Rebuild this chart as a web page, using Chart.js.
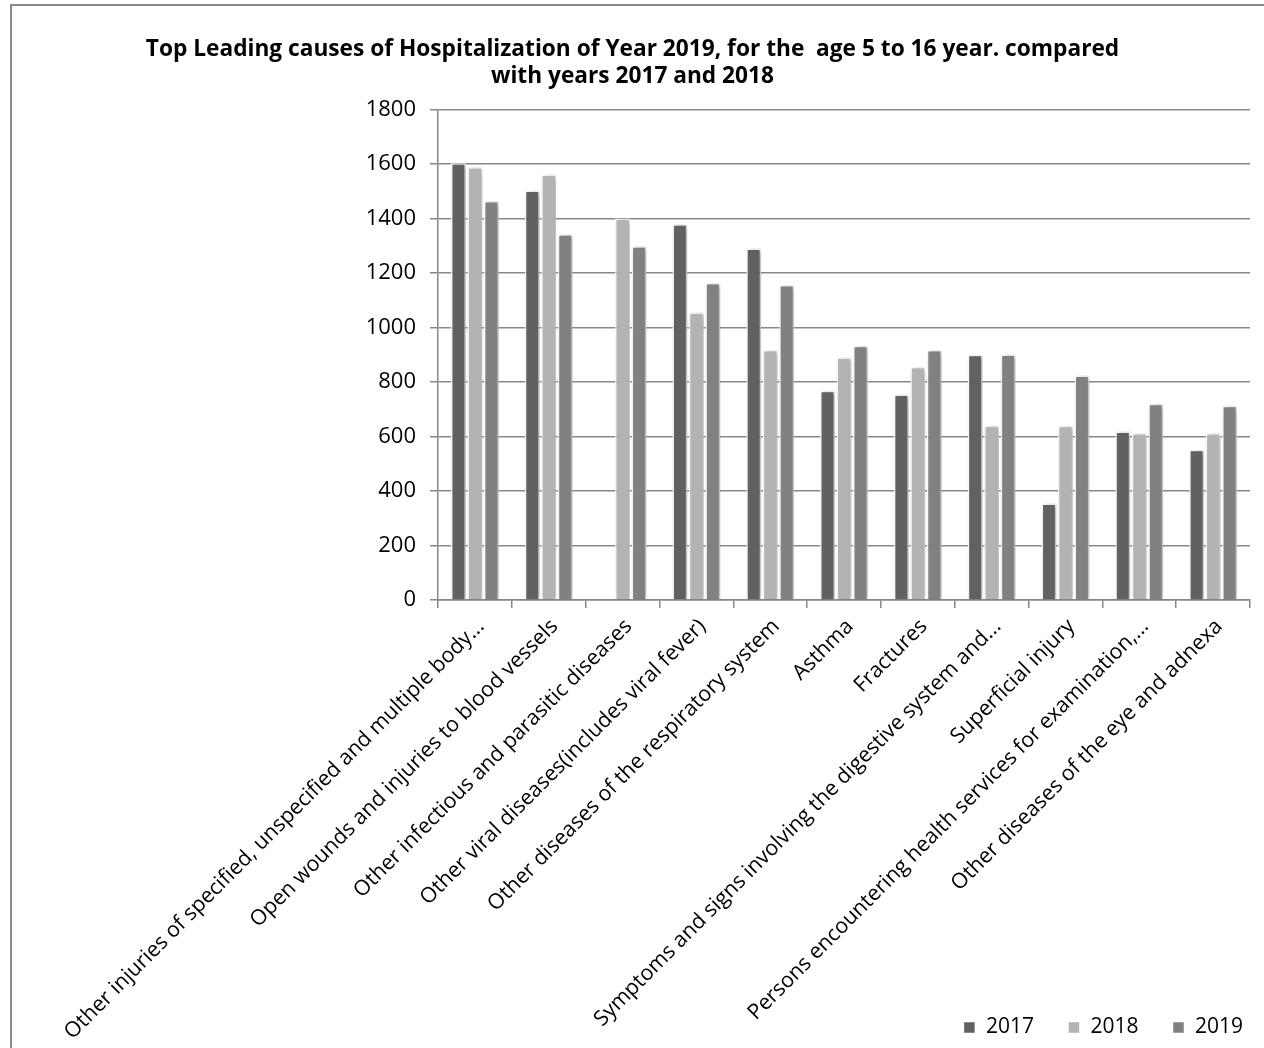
<!DOCTYPE html>
<html>
<head>
<meta charset="utf-8">
<script src="https://cdn.jsdelivr.net/npm/chart.js@4"></script>
<style>
  html, body { margin: 0; padding: 0; background: #ffffff; }
  #wrap { width: 1264px; height: 1048px; position: relative; }
</style>
</head>
<body>
<div id="wrap"><canvas id="c" width="1264" height="1048"></canvas></div>
<script>
const categories = [
  "Other injuries of specified, unspecified and multiple body...",
  "Open wounds and injuries to blood vessels",
  "Other infectious and parasitic diseases",
  "Other viral diseases(includes viral fever)",
  "Other diseases of the respiratory system",
  "Asthma",
  "Fractures",
  "Symptoms and signs involving the digestive system and...",
  "Superficial injury",
  "Persons encountering health services for examination,...",
  "Other diseases of the eye and adnexa"
];
const values2017 = [1603, 1503, null, 1379, 1290, 768, 754, 900, 354, 618, 551];
const values2018 = [1588, 1561, 1400, 1055, 917, 890, 855, 640, 639, 612, 612];
const values2019 = [1464, 1342, 1298, 1163, 1156, 933, 917, 901, 824, 720, 713];
const seriesNames = ["2017", "2018", "2019"];
const titleLines = [
  "Top Leading causes of Hospitalization of Year 2019, for the  age 5 to 16 year. compared",
  "with years 2017 and 2018"
];
const yMin = 0, yMax = 1800, yStep = 200;

const FONT = "'Open Sans', 'Noto Sans', sans-serif";
const GRID = '#878787';

const framePlugin = {
  id: 'frame',
  beforeDraw(chart) {
    const ctx = chart.ctx;
    ctx.save();
    ctx.fillStyle = '#ffffff';
    ctx.fillRect(0, 0, chart.width, chart.height);
    ctx.strokeStyle = '#8a8a8a';
    ctx.lineWidth = 2;
    ctx.strokeRect(11, 5, chart.width + 50, chart.height + 50);
    ctx.restore();
  }
};
const shadowPlugin = {
  id: 'barShadow',
  beforeDatasetsDraw(chart) {
    const ctx = chart.ctx;
    ctx.save();
    ctx.shadowColor = 'rgba(0,0,0,0.35)';
    ctx.shadowBlur = 5;
    ctx.shadowOffsetX = 2;
    ctx.shadowOffsetY = 1;
  },
  afterDatasetsDraw(chart) {
    chart.ctx.restore();
  }
};
const shiftPlugin = {
  id: 'shiftBoxes',
  afterLayout(chart) {
    if (chart.titleBlock) {
      chart.titleBlock.left += 15;
      chart.titleBlock.right += 0;
    }
    if (chart.legend) {
      chart.legend.left += 27;
      chart.legend.right += 27;
    }
  }
};

new Chart(document.getElementById('c'), {
  type: 'bar',
  data: {
    labels: categories,
    datasets: [
      { label: seriesNames[0], data: values2017, backgroundColor: '#616161' },
      { label: seriesNames[1], data: values2018, backgroundColor: '#b3b3b3' },
      { label: seriesNames[2], data: values2019, backgroundColor: '#818181' }
    ]
  },
  options: {
    responsive: false,
    animation: false,
    devicePixelRatio: 1,
    layout: { padding: { left: 0, right: 14, top: 0, bottom: 0 } },
    datasets: {
      bar: {
        categoryPercentage: 0.67,
        barPercentage: 0.9,
        borderColor: '#ffffff',
        borderWidth: 1.5
      }
    },
    plugins: {
      title: {
        display: true,
        text: titleLines,
        color: '#000000',
        font: { family: FONT, size: 22.7, weight: 'bold', lineHeight: 1.2 },
        padding: { top: 36, bottom: 19 }
      },
      legend: {
        display: true,
        position: 'bottom',
        align: 'end',
        labels: {
          color: '#000000',
          font: { family: FONT, size: 21 },
          boxWidth: 12,
          boxHeight: 12,
          padding: 34
        }
      },
      tooltip: { enabled: false }
    },
    scales: {
      x: {
        grid: { display: true, drawOnChartArea: false, drawTicks: true, tickLength: 8, color: GRID, lineWidth: 1.5 },
        border: { display: true, color: GRID, width: 1.5 },
        ticks: {
          color: '#000000',
          font: { family: FONT, size: 21.3 },
          minRotation: 45,
          maxRotation: 45,
          autoSkip: false,
          padding: 6,
          labelOffset: 6
        },
        afterFit(scale) {
          scale.height = 383;
          scale.paddingLeft = 0;
          scale.paddingRight = 0;
          scale._computeLabelArea = function () {
            return { top: this.top, left: 0, bottom: this.chart.height, right: this.chart.width };
          };
        }
      },
      y: {
        min: yMin,
        max: yMax,
        grid: { color: GRID, lineWidth: 1.5, tickLength: 8, drawTicks: true },
        border: { display: true, color: GRID, width: 1.5 },
        ticks: {
          stepSize: yStep,
          color: '#000000',
          font: { family: FONT, size: 22 },
          padding: 14,
          callback: (v) => String(v)
        },
        afterFit(scale) {
          scale.width = 438;
          scale.paddingTop = 0;
          scale.paddingBottom = 0;
        }
      }
    }
  },
  plugins: [framePlugin, shadowPlugin, shiftPlugin]
});
</script>
</body>
</html>
